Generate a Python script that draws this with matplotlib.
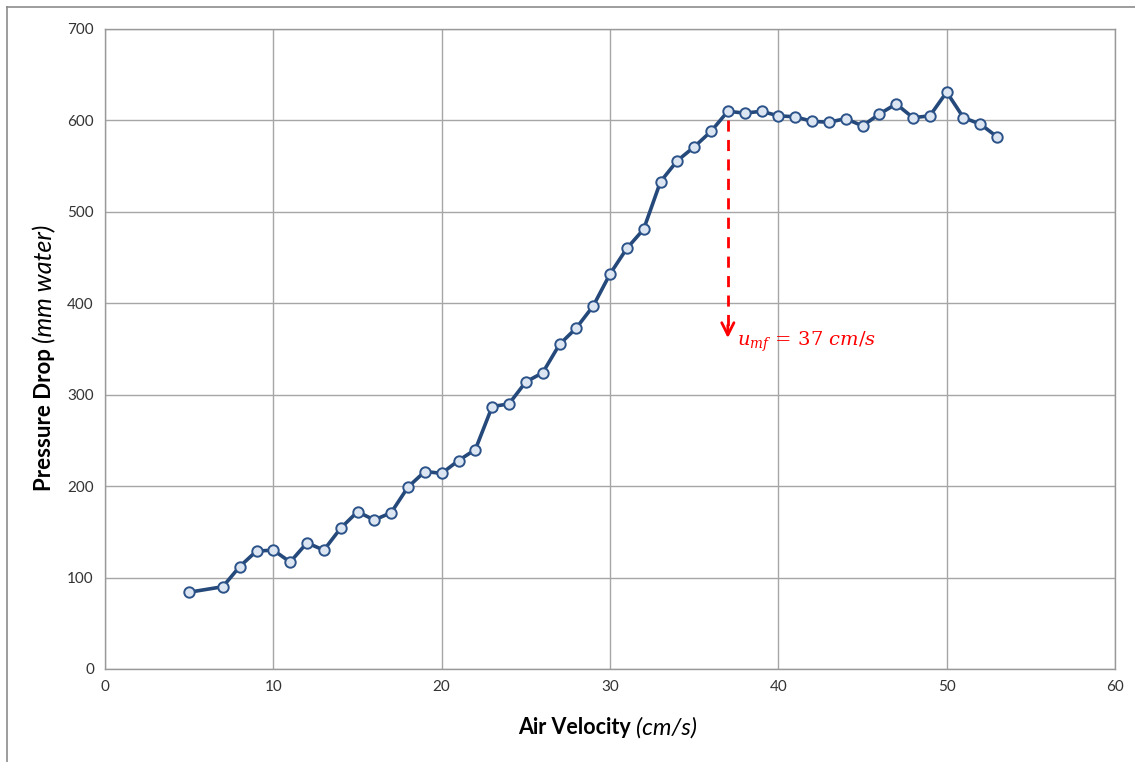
import matplotlib
matplotlib.use("Agg")
import matplotlib.pyplot as plt
from matplotlib.lines import Line2D

# Air velocity (cm/s) and measured pressure drop (mm water)
velocity = [5, 7, 8, 9, 10, 11, 12, 13, 14, 15, 16, 17, 18, 19, 20, 21, 22, 23,
            24, 25, 26, 27, 28, 29, 30, 31, 32, 33, 34, 35, 36, 37, 38, 39, 40,
            41, 42, 43, 44, 45, 46, 47, 48, 49, 50, 51, 52, 53]
pressure_drop = [84, 90, 112, 129, 130, 117, 138, 130, 154, 172, 163, 171, 199,
                 216, 214, 228, 240, 287, 290, 314, 324, 355, 373, 397, 432, 460,
                 481, 533, 556, 571, 588, 610, 608, 610, 605, 604, 599, 598, 602,
                 594, 607, 618, 603, 605, 631, 603, 596, 582]

u_mf = 37
arrow_top = 600
arrow_bottom = 362

x_ticks = [0, 10, 20, 30, 40, 50, 60]
y_ticks = [0, 100, 200, 300, 400, 500, 600, 700]

plt.rcParams["font.family"] = ["Lato", "DejaVu Sans"]
plt.rcParams["mathtext.fontset"] = "dejavuserif"

W, H = 1135, 762
fig = plt.figure(figsize=(W / 100, H / 100), dpi=100)
ax = fig.add_axes([105 / W, 1 - 669 / H, (1115 - 105) / W, (669 - 29) / H])

ax.plot(velocity, pressure_drop, color="#24497a", lw=2.6, marker="o",
        markersize=7.5, markerfacecolor="#dce6f2", markeredgecolor="#2c5389",
        markeredgewidth=1.4, zorder=3)

# Minimum fluidisation marker
ax.plot([u_mf, u_mf], [arrow_top, arrow_bottom + 12], color="#ff0000", lw=2,
        linestyle=(0, (4, 3)), zorder=2)
ax.annotate("", xy=(u_mf, arrow_bottom), xytext=(u_mf, arrow_bottom + 14),
            arrowprops=dict(arrowstyle="->", color="#ff0000", lw=2,
                            mutation_scale=22, shrinkA=0, shrinkB=0))
ax.text(u_mf + 0.55, arrow_bottom - 4, r"$u_{mf}\,=\,37\ cm/s$", color="#ff0000",
        fontsize=14, va="center", ha="left")

ax.set_xlim(0, 60)
ax.set_ylim(0, 700)
ax.set_xticks(x_ticks)
ax.set_yticks(y_ticks)
ax.tick_params(length=0, labelsize=11, colors="#333333", pad=8)
ax.grid(True, color="#a6a6a6", lw=1)
ax.set_axisbelow(True)
for s in ax.spines.values():
    s.set_color("#999999")
    s.set_linewidth(1)

# Axis titles: bold quantity followed by italic unit
fig.text(636 / W, 1 - 728 / H, "Air Velocity ", fontsize=15.5,
         fontweight="bold", ha="right", va="center")
fig.text(636 / W, 1 - 728 / H, "(cm/s)", fontsize=17,
         fontstyle="italic", ha="left", va="center")
fig.text(45 / W, 1 - 343 / H, "Pressure Drop ", fontsize=16,
         fontweight="bold", rotation=90, ha="center", va="top")
fig.text(45 / W, 1 - 343 / H, "(mm water)", fontsize=18,
         fontstyle="italic", rotation=90, ha="center", va="bottom")

# Outer chart frame
fig.add_artist(Line2D([7 / W, 7 / W], [0, 1 - 7 / H],
                      transform=fig.transFigure, color="#8c8c8c", lw=1.2))
fig.add_artist(Line2D([7 / W, 1], [1 - 7 / H, 1 - 7 / H],
                      transform=fig.transFigure, color="#8c8c8c", lw=1.2))

fig.savefig("out.png", dpi=100)
